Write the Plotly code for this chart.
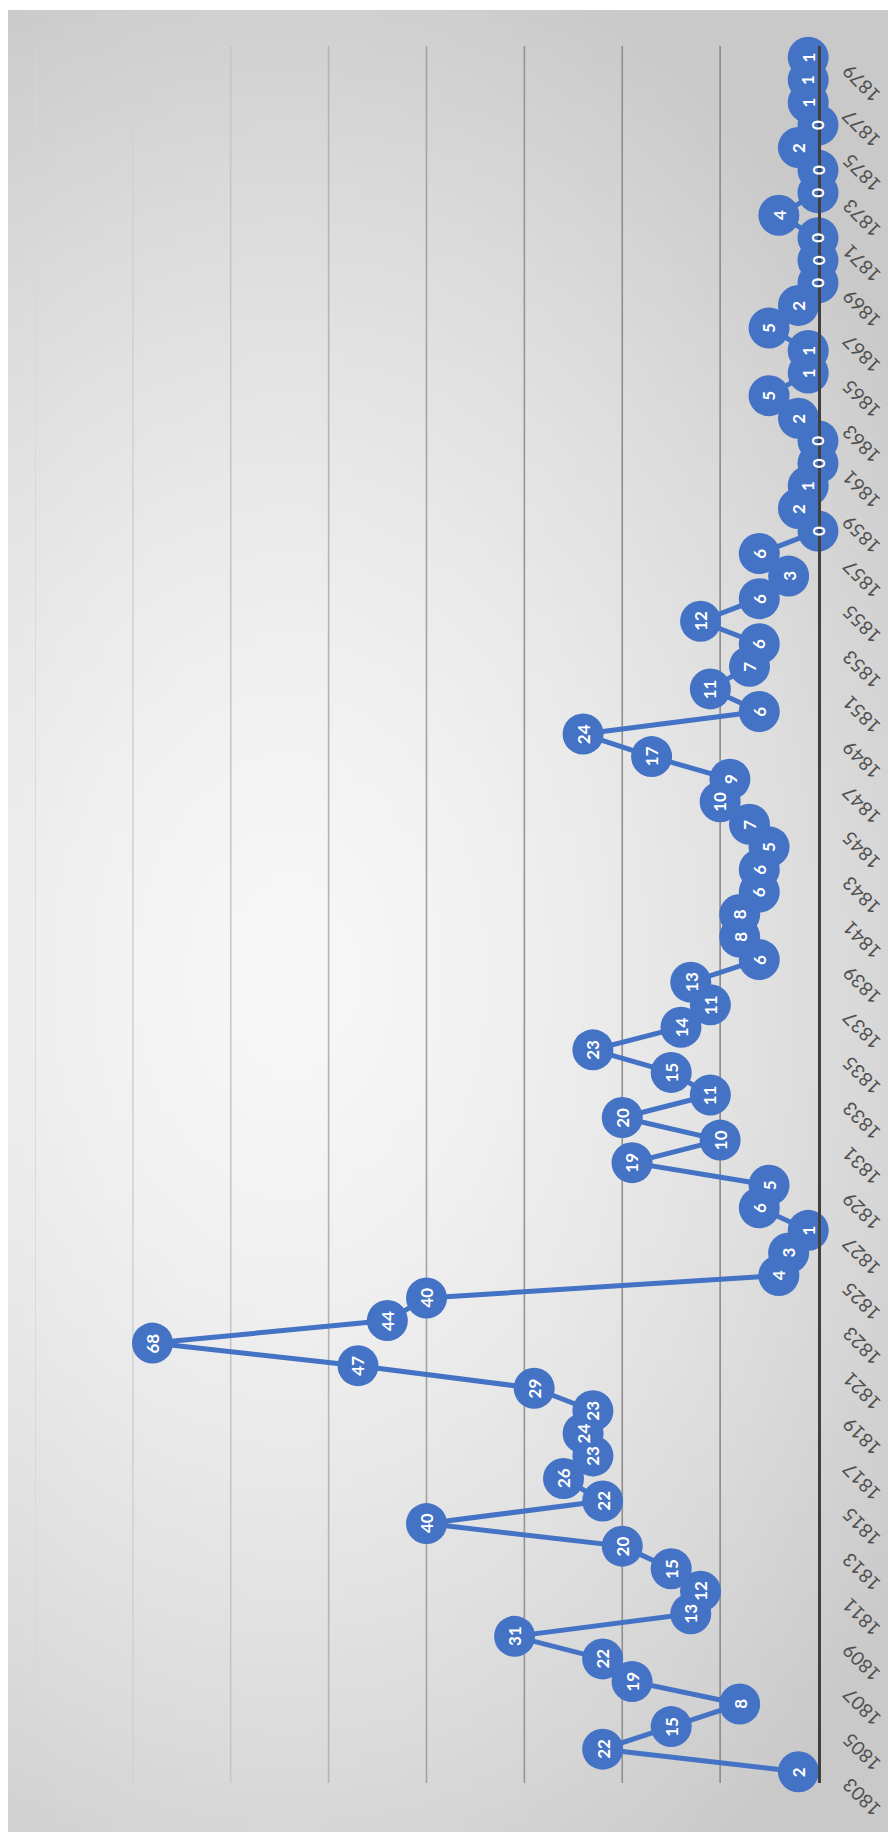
import zlib, struct, base64
import plotly.graph_objects as go

# ---------------- data ----------------
years = [1803, 1804, 1805, 1806, 1807, 1808, 1809, 1810, 1811, 1812,
         1813, 1814, 1815, 1816, 1817, 1818, 1819, 1820, 1821, 1822,
         1823, 1824, 1825, 1826, 1827, 1828, 1829, 1830, 1831, 1832,
         1833, 1834, 1835, 1836, 1837, 1838, 1839, 1840, 1841, 1842,
         1843, 1844, 1845, 1846, 1847, 1848, 1849, 1850, 1851, 1852,
         1853, 1854, 1855, 1856, 1857, 1858, 1859, 1860, 1861, 1862,
         1863, 1864, 1865, 1866, 1867, 1868, 1869, 1870, 1871, 1872,
         1873, 1874, 1875, 1876, 1877, 1878, 1879]

values = [2, 22, 15, 8, 19, 22, 31, 13, 12, 15,
          20, 40, 22, 26, 23, 24, 23, 29, 47, 68,
          44, 40, 4, 3, 1, 6, 5, 19, 10, 20,
          11, 15, 23, 14, 11, 13, 6, 8, 8, 6,
          6, 5, 7, 10, 9, 17, 24, 6, 11, 7,
          6, 12, 6, 3, 6, 0, 2, 1, 0, 0,
          2, 5, 1, 1, 5, 2, 0, 0, 0, 4,
          0, 0, 2, 0, 1, 1, 1]

tick_years = [1803, 1805, 1807, 1809, 1811, 1813, 1815, 1817, 1819, 1821,
              1823, 1825, 1827, 1829, 1831, 1833, 1835, 1837, 1839, 1841,
              1843, 1845, 1847, 1849, 1851, 1853, 1855, 1857, 1859, 1861,
              1863, 1865, 1867, 1869, 1871, 1873, 1875, 1877, 1879]

grid_values = [10, 20, 30, 40, 50, 60, 70, 80]
grid_colors = ['#8a8a8a', '#8e8e8e', '#959595', '#a3a3a3',
               '#b4b4b4', '#c6c6c6', '#d2d2d2', '#d6d6d6']

BLUE = '#4472C4'

# page body has an 8px default margin; the figure is sized to fit after it
OFF = 8
W, H = 896 - OFF, 1832 - OFF
L, R, T, B = 35 - OFF, 78, 46 - OFF, 49
pw, ph = W - L - R, H - T - B

# ---------------- background gradient image ----------------
def make_png(w, h, pix):
    raw = bytearray()
    for j in range(h):
        raw.append(0)
        for i in range(w):
            raw.extend(pix(i, j))

    def chunk(t, d):
        c = struct.pack('>I', len(d)) + t + d
        return c + struct.pack('>I', zlib.crc32(t + d) & 0xffffffff)

    png = (b'\x89PNG\r\n\x1a\n'
           + chunk(b'IHDR', struct.pack('>IIBBBBB', w, h, 8, 2, 0, 0, 0))
           + chunk(b'IDAT', zlib.compress(bytes(raw), 9))
           + chunk(b'IEND', b''))
    return 'data:image/png;base64,' + base64.b64encode(png).decode()

IMG_TOP = 2            # figure px
IW, IH = 89, 183
def pix(i, j):
    px = OFF + (i + 0.5) * 10
    py = OFF + IMG_TOP + (j + 0.5) * 10
    dx = (px - 290) / 760.0
    dy = (py - 980) / 1080.0
    t = min(1.0, (dx * dx + dy * dy) ** 0.5)
    c = int(round(247 - (247 - 201) * t ** 1.5))
    return bytes((c, c, c))

bg_uri = make_png(IW, IH, pix)

# ---------------- figure ----------------
fig = go.Figure()

fig.add_trace(go.Scatter(
    x=values, y=years, mode='lines+markers',
    line=dict(color=BLUE, width=5),
    marker=dict(size=41, color=BLUE, line=dict(width=0)),
    cliponaxis=False, hoverinfo='skip', showlegend=False,
))

annotations = []
for v, yr in zip(values, years):
    annotations.append(dict(
        x=v, y=yr, xref='x', yref='y', text=str(v), showarrow=False,
        textangle=-90, xanchor='center', yanchor='middle',
        font=dict(family='Lato', size=17, color='white', weight='bold'),
    ))
for yr in tick_years:
    annotations.append(dict(
        x=1, y=yr, xref='paper', yref='y', text=str(yr), showarrow=False,
        textangle=-135, xanchor='left', yanchor='top', xshift=17, yshift=0,
        font=dict(family='Lato', size=19, color='#505050'),
    ))

shapes = []
for gv, gc in zip(grid_values, grid_colors):
    shapes.append(dict(type='line', xref='x', yref='paper', x0=gv, x1=gv,
                       y0=0, y1=1, line=dict(color=gc, width=1.6), layer='below'))

fig.update_layout(
    width=W, height=H,
    margin=dict(l=L, r=R, t=T, b=B, pad=0),
    paper_bgcolor='white',
    plot_bgcolor='rgba(0,0,0,0)',
    xaxis=dict(range=[80, 0], showgrid=False, zeroline=False,
               showticklabels=False, ticks='', showline=False, fixedrange=True),
    yaxis=dict(range=[1802.5, 1879.5], side='right', showgrid=False,
               zeroline=False, showticklabels=False, ticks='',
               showline=True, linecolor='#404040', linewidth=3, fixedrange=True),
    images=[dict(source=bg_uri, xref='paper', yref='paper',
                 x=(0 - L) / pw, y=(H - B - IMG_TOP) / ph,
                 sizex=W / pw, sizey=(H - IMG_TOP) / ph,
                 xanchor='left', yanchor='top', sizing='stretch', layer='below')],
    shapes=shapes,
    annotations=annotations,
)

fig.write_html('out.html')
